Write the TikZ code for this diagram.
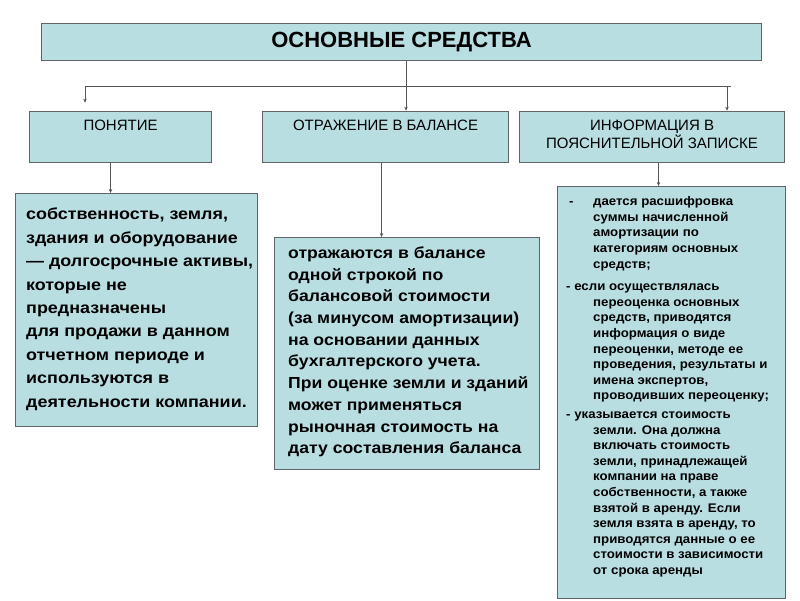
\documentclass[tikz,border=0pt]{standalone}
\usepackage{fontspec}
\setmainfont{Liberation Sans}
\newfontfamily\wideface[FakeStretch=1.12]{Liberation Sans}
\newfontfamily\midface[FakeStretch=1.1]{Liberation Sans}
\newfontfamily\noteface[FakeStretch=1.06]{Liberation Sans}
\usetikzlibrary{arrows.meta,positioning}
\definecolor{boxfill}{HTML}{B9DEE1}
\definecolor{boxline}{HTML}{5F6466}
\definecolor{wirecol}{HTML}{555555}
\newcommand\ind{\hspace*{27pt}}
\begin{document}
\begin{tikzpicture}[x=1pt,y=-1pt,
    box/.style={draw=boxline, fill=boxfill, line width=1.1pt, rectangle, inner sep=0pt, anchor=north west},
    head/.style={inner sep=0pt, anchor=north, align=center, font=\fontsize{15}{18}\selectfont},
    body/.style={inner sep=0pt, anchor=north west, align=left},
    wire/.style={draw=wirecol, line width=0.8pt},
    arr/.style={wire, -{Stealth[length=4pt,width=3.5pt]}}]
  \useasboundingbox (0,0) rectangle (800,600);
  \fill[white] (0,0) rectangle (800,600);

  % top
  \node[box, minimum width=720pt, minimum height=37.3pt,
        font=\fontsize{22}{26}\selectfont\bfseries] (os) at (41,22.7) {ОСНОВНЫЕ СРЕДСТВА};

  % second row
  \node[box, minimum width=182pt, minimum height=51.3pt] (pon) at (29,110.7) {};
  \node[box, minimum width=246pt, minimum height=51.3pt] (otr) at (262,110.7) {};
  \node[box, minimum width=265pt, minimum height=51.3pt] (inf) at (519,110.7) {};
  \node[head] (pont) at ([yshift=-9pt]pon.north) {ПОНЯТИЕ};
  \node[head] (otrt) at ([yshift=-9pt]otr.north) {ОТРАЖЕНИЕ В БАЛАНСЕ};
  \node[head] (inft) at ([yshift=-9pt]inf.north) {ИНФОРМАЦИЯ В\\ПОЯСНИТЕЛЬНОЙ ЗАПИСКЕ};

  % third row
  \node[box, minimum width=242pt, minimum height=233pt] (sob) at (15,193) {};
  \node[box, minimum width=265pt, minimum height=232pt] (bal) at (274,237) {};
  \node[box, minimum width=228pt, minimum height=412pt] (zap) at (557,186) {};

  \node[body, font=\wideface\bfseries\fontsize{16}{23.4}\selectfont] (sobt) at (26,208) {%
    собственность, земля,\\
    здания и оборудование\\
    — долгосрочные активы,\\
    которые не\\
    предназначены\\
    для продажи в данном\\
    отчетном периоде и\\
    используются в\\
    деятельности компании.};
  \node[body, font=\midface\bfseries\fontsize{16}{21.7}\selectfont] (balt) at (288,246.5) {%
    отражаются в балансе\\
    одной строкой по\\
    балансовой стоимости\\
    (за минусом амортизации)\\
    на основании данных\\
    бухгалтерского учета.\\
    При оценке земли и зданий\\
    может применяться\\
    рыночная стоимость на\\
    дату составления баланса};
  \node[body, font=\noteface\bfseries\fontsize{12.5}{15.6}\selectfont] (zapt) at (566,196.5) {%
    \makebox[27pt][l]{\hspace*{3pt}-}дается расшифровка\\
    \ind суммы начисленной\\
    \ind амортизации по\\
    \ind категориям основных\\
    \ind средств;\\[7pt]
    - если осуществлялась\\
    \ind переоценка основных\\
    \ind средств, приводятся\\
    \ind информация о виде\\
    \ind переоценки, методе ее\\
    \ind проведения, результаты и\\
    \ind имена экспертов,\\
    \ind проводивших переоценку;\\[3pt]
    - указывается стоимость\\
    \ind земли. Она должна\\
    \ind включать стоимость\\
    \ind земли, принадлежащей\\
    \ind компании на праве\\
    \ind собственности, а также\\
    \ind взятой в аренду. Если\\
    \ind земля взята в аренду, то\\
    \ind приводятся данные о ее\\
    \ind стоимости в зависимости\\
    \ind от срока аренды};

  % connectors
  \coordinate (hl) at (85,86);
  \coordinate (hm) at (406,86);
  \coordinate (hr) at (731,86);
  \draw[wire] (hl) -- (hr);
  \draw[wire] (hm |- os.south) -- (hm);
  \draw[arr] (hm) -- (hm |- otr.north);
  \draw[arr] (hl) -- ([yshift=8pt]hl |- pon.north);
  \draw[arr] ([xshift=-4pt]hr) -- ([xshift=-4pt]hr |- inf.north);
  \draw[arr] ([xshift=-10pt]pon.south) -- ([xshift=-10pt]pon.south |- sob.north);
  \draw[arr] ([xshift=-4pt]otr.south) -- ([xshift=-4pt]otr.south |- bal.north);
  \draw[arr] ([xshift=6.5pt]inf.south) -- ([xshift=6.5pt]inf.south |- zap.north);
\end{tikzpicture}
\end{document}
